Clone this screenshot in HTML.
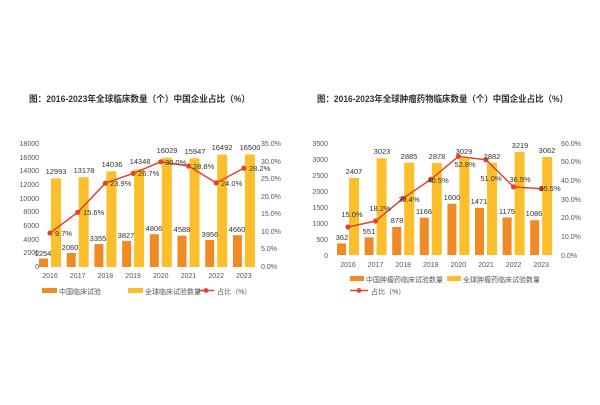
<!DOCTYPE html>
<html><head><meta charset="utf-8"><style>
html,body{margin:0;padding:0;background:#fff}
svg text{font-family:"Liberation Sans","Noto Sans CJK SC",sans-serif;fill:#555}
</style></head><body>
<svg width="600" height="400" viewBox="0 0 600 400" xmlns="http://www.w3.org/2000/svg">
<rect width="600" height="400" fill="#fff"/>
<!-- LEFT CHART -->
<text x="29" y="102" font-size="9" font-weight="bold" textLength="221" lengthAdjust="spacingAndGlyphs" style="fill:#333">图：2016-2023年全球临床数量（个）中国企业占比（%）</text>
<g font-size="7" text-anchor="end">
<text x="39" y="146">18000</text><text x="39" y="160">16000</text><text x="39" y="173">14000</text><text x="39" y="187">12000</text><text x="39" y="201">10000</text><text x="39" y="214">8000</text><text x="39" y="228">6000</text><text x="39" y="242">4000</text><text x="39" y="255">2000</text><text x="39" y="269">0</text>
</g>
<g font-size="7">
<text x="261" y="146">35.0%</text><text x="261" y="164">30.0%</text><text x="261" y="181">25.0%</text><text x="261" y="199">20.0%</text><text x="261" y="216">15.0%</text><text x="261" y="234">10.0%</text><text x="261" y="251">5.0%</text><text x="261" y="269">0.0%</text>
</g>
<g fill="#F08A24">
<rect x="39" y="258.5" width="9" height="8.5"/><rect x="66.7" y="253" width="9" height="14"/><rect x="94.4" y="244.1" width="9" height="22.9"/><rect x="122.1" y="240.9" width="9" height="26.1"/><rect x="149.8" y="234.2" width="9" height="32.8"/><rect x="177.5" y="235.7" width="9" height="31.3"/><rect x="205.2" y="240" width="9" height="27"/><rect x="232.9" y="235.2" width="9" height="31.8"/>
</g>
<g fill="#FBBF2B">
<rect x="51" y="178.4" width="10" height="88.6"/><rect x="78.7" y="177.2" width="10" height="89.8"/><rect x="106.4" y="171.3" width="10" height="95.7"/><rect x="134.1" y="169.2" width="10" height="97.8"/><rect x="161.8" y="157.7" width="10" height="109.3"/><rect x="189.5" y="158.3" width="10" height="108.7"/><rect x="217.2" y="154.6" width="10" height="112.4"/><rect x="244.9" y="154.5" width="10" height="112.5"/>
</g>
<polyline fill="none" stroke="#E0452B" stroke-width="1.5" points="50,233 77.7,212.3 105.4,183.2 133.1,173.4 160.8,161.8 188.5,166 216.2,182.9 243.9,168.1"/>
<g fill="#E0452B"><circle cx="50" cy="233" r="2.6"/><circle cx="77.7" cy="212.3" r="2.6"/><circle cx="105.4" cy="183.2" r="2.6"/><circle cx="133.1" cy="173.4" r="2.6"/><circle cx="160.8" cy="161.8" r="2.6"/><circle cx="188.5" cy="166" r="2.6"/><circle cx="216.2" cy="182.9" r="2.6"/><circle cx="243.9" cy="168.1" r="2.6"/></g>
<g font-size="7.5" text-anchor="middle">
<text x="43" y="256" style="fill:#333">1254</text><text x="70" y="250" style="fill:#333">2060</text><text x="98" y="241" style="fill:#333">3355</text><text x="126" y="238" style="fill:#333">3827</text><text x="154" y="231" style="fill:#333">4806</text><text x="182" y="232" style="fill:#333">4588</text><text x="210" y="237" style="fill:#333">3956</text><text x="237" y="232" style="fill:#333">4660</text>
<text x="56" y="174" style="fill:#333">12993</text><text x="84" y="173" style="fill:#333">13178</text><text x="112" y="167" style="fill:#333">14036</text><text x="140" y="164" style="fill:#333">14348</text><text x="167" y="153" style="fill:#333">16029</text><text x="195" y="154" style="fill:#333">15947</text><text x="222" y="150" style="fill:#333">16492</text><text x="250" y="150" style="fill:#333">16500</text>
</g>
<g font-size="7.5">
<text x="55" y="236" style="fill:#333">9.7%</text><text x="83" y="215" style="fill:#333">15.6%</text><text x="110" y="186" style="fill:#333">23.9%</text><text x="138" y="176" style="fill:#333">26.7%</text><text x="165" y="165" style="fill:#333">30.0%</text><text x="193" y="169" style="fill:#333">28.8%</text><text x="221" y="186" style="fill:#333">24.0%</text><text x="249" y="171" style="fill:#333">28.2%</text>
</g>
<g font-size="7" text-anchor="middle">
<text x="50" y="278">2016</text><text x="77.7" y="278">2017</text><text x="105.4" y="278">2018</text><text x="133.1" y="278">2019</text><text x="160.8" y="278">2020</text><text x="188.5" y="278">2021</text><text x="216.2" y="278">2022</text><text x="243.9" y="278">2023</text>
</g>
<rect x="42" y="288" width="15" height="5" fill="#F08A24"/><text x="59" y="294" font-size="7">中国临床试验</text>
<rect x="128" y="288" width="15" height="5" fill="#FBBF2B"/><text x="145" y="294" font-size="7">全球临床试验数量</text>
<line x1="198" y1="290.5" x2="214" y2="290.5" stroke="#E0452B" stroke-width="1.5"/><circle cx="206" cy="290.5" r="2.4" fill="#E0452B"/><text x="217" y="294" font-size="7">占比（%）</text>

<!-- RIGHT CHART -->
<text x="317" y="102" font-size="9" font-weight="bold" textLength="251" lengthAdjust="spacingAndGlyphs" style="fill:#333">图：2016-2023年全球肿瘤药物临床数量（个）中国企业占比（%）</text>
<g font-size="7" text-anchor="end">
<text x="328" y="146">3500</text><text x="328" y="162">3000</text><text x="328" y="178">2500</text><text x="328" y="194">2000</text><text x="328" y="210">1500</text><text x="328" y="226">1000</text><text x="328" y="242">500</text><text x="328" y="258">0</text>
</g>
<g font-size="7">
<text x="561" y="146">60.0%</text><text x="561" y="164">50.0%</text><text x="561" y="183">40.0%</text><text x="561" y="202">30.0%</text><text x="561" y="220">20.0%</text><text x="561" y="239">10.0%</text><text x="561" y="258">0.0%</text>
</g>
<g fill="#F08A24">
<rect x="337" y="243.4" width="9" height="11.6"/><rect x="364.6" y="237.4" width="9" height="17.6"/><rect x="392.2" y="226.9" width="9" height="28.1"/><rect x="419.8" y="217.7" width="9" height="37.3"/><rect x="447.4" y="203.8" width="9" height="51.2"/><rect x="475" y="207.9" width="9" height="47.1"/><rect x="502.6" y="217.4" width="9" height="37.6"/><rect x="530.2" y="220.2" width="9" height="34.8"/>
</g>
<g fill="#FBBF2B">
<rect x="349" y="178" width="10" height="77"/><rect x="376.6" y="158.3" width="10" height="96.7"/><rect x="404.2" y="162.7" width="10" height="92.3"/><rect x="431.8" y="162.9" width="10" height="92.1"/><rect x="459.4" y="158.1" width="10" height="96.9"/><rect x="487" y="162.8" width="10" height="92.2"/><rect x="514.6" y="152" width="10" height="103"/><rect x="542.2" y="157" width="10" height="98"/>
</g>
<polyline fill="none" stroke="#E0452B" stroke-width="1.5" points="348,227 375.6,221 403.2,198.3 430.8,179.4 458.4,156.4 486,159.8 513.6,186.9 541.2,188.7"/>
<g fill="#E0452B"><circle cx="348" cy="227" r="2.6"/><circle cx="375.6" cy="221" r="2.6"/><circle cx="403.2" cy="198.3" r="2.6"/><circle cx="430.8" cy="179.4" r="2.6"/><circle cx="458.4" cy="156.4" r="2.6"/><circle cx="486" cy="159.8" r="2.6"/><circle cx="513.6" cy="186.9" r="2.6"/><circle cx="541.2" cy="188.7" r="2.6"/></g>
<g font-size="7.5" text-anchor="middle">
<text x="342" y="240" style="fill:#333">362</text><text x="369" y="234" style="fill:#333">551</text><text x="397" y="223" style="fill:#333">878</text><text x="424" y="214" style="fill:#333">1166</text><text x="452" y="200" style="fill:#333">1600</text><text x="479" y="204" style="fill:#333">1471</text><text x="507" y="214" style="fill:#333">1175</text><text x="534" y="216" style="fill:#333">1086</text>
<text x="354" y="174" style="fill:#333">2407</text><text x="382" y="154" style="fill:#333">3023</text><text x="409" y="159" style="fill:#333">2885</text><text x="437" y="159" style="fill:#333">2878</text><text x="464" y="154" style="fill:#333">3029</text><text x="492" y="159" style="fill:#333">2882</text><text x="520" y="148" style="fill:#333">3219</text><text x="547" y="153" style="fill:#333">3062</text>
</g>
<g font-size="7.5" text-anchor="middle">
<text x="352" y="217" style="fill:#333">15.0%</text><text x="380" y="211" style="fill:#333">18.2%</text><text x="409" y="202" style="fill:#333">30.4%</text><text x="438" y="183" style="fill:#333">40.5%</text><text x="465" y="167" style="fill:#333">52.8%</text><text x="491" y="181" style="fill:#333">51.0%</text><text x="520" y="182" style="fill:#333">36.5%</text><text x="550" y="191" style="fill:#333">35.5%</text>
</g>
<g font-size="7" text-anchor="middle">
<text x="348" y="267">2016</text><text x="375.6" y="267">2017</text><text x="403.2" y="267">2018</text><text x="430.8" y="267">2019</text><text x="458.4" y="267">2020</text><text x="486" y="267">2021</text><text x="513.6" y="267">2022</text><text x="541.2" y="267">2023</text>
</g>
<rect x="350" y="276" width="14" height="5" fill="#F08A24"/><text x="366" y="282" font-size="7">中国肿瘤药临床试验数量</text>
<rect x="447" y="276" width="14" height="5" fill="#FBBF2B"/><text x="463" y="282" font-size="7">全球肿瘤药临床试验数量</text>
<line x1="350" y1="290.5" x2="368" y2="290.5" stroke="#E0452B" stroke-width="1.5"/><circle cx="359" cy="290.5" r="2.4" fill="#E0452B"/><text x="371" y="294" font-size="7">占比（%）</text>
</svg>
</body></html>
